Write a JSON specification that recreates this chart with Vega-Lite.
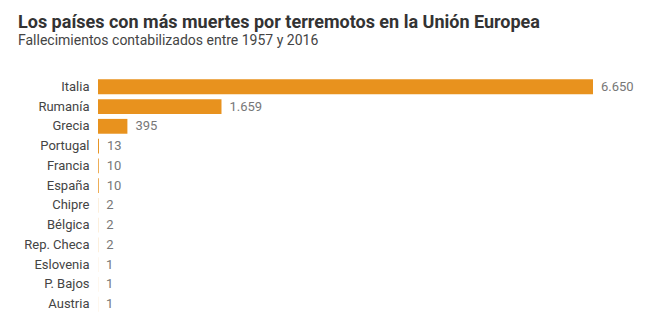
{
  "$schema": "https://vega.github.io/schema/vega-lite/v6.json",
  "autosize": "none",
  "width": 495,
  "height": 237,
  "padding": {"left": 98, "top": 77, "right": 67, "bottom": 21},
  "background": "white",
  "config": {"view": {"stroke": null}, "font": "Roboto"},
  "title": {
    "text": "Los países con más muertes por terremotos en la Unión Europea",
    "subtitle": "Fallecimientos contabilizados entre 1957 y 2016",
    "anchor": "start",
    "frame": "group",
    "dx": -80,
    "offset": 29,
    "font": "Roboto",
    "fontSize": 18,
    "fontWeight": "bold",
    "color": "#333333",
    "subtitleFont": "Roboto",
    "subtitleFontSize": 14,
    "subtitleColor": "#444444",
    "subtitlePadding": 2
  },
  "data": {
    "values": [
      {"pais": "Italia", "muertes": 6650, "label": "6.650"},
      {"pais": "Rumanía", "muertes": 1659, "label": "1.659"},
      {"pais": "Grecia", "muertes": 395, "label": "395"},
      {"pais": "Portugal", "muertes": 13, "label": "13"},
      {"pais": "Francia", "muertes": 10, "label": "10"},
      {"pais": "España", "muertes": 10, "label": "10"},
      {"pais": "Chipre", "muertes": 2, "label": "2"},
      {"pais": "Bélgica", "muertes": 2, "label": "2"},
      {"pais": "Rep. Checa", "muertes": 2, "label": "2"},
      {"pais": "Eslovenia", "muertes": 1, "label": "1"},
      {"pais": "P. Bajos", "muertes": 1, "label": "1"},
      {"pais": "Austria", "muertes": 1, "label": "1"}
    ]
  },
  "encoding": {
    "y": {
      "field": "pais",
      "type": "nominal",
      "sort": null,
      "scale": {"paddingInner": 0.25, "paddingOuter": 0.12},
      "axis": {
        "title": null,
        "domain": false,
        "ticks": false,
        "labelPadding": 9,
        "labelFontSize": 13,
        "labelColor": "#444444",
        "labelFont": "Roboto"
      }
    },
    "x": {
      "field": "muertes",
      "type": "quantitative",
      "scale": {"domain": [0, 6650], "nice": false},
      "axis": null
    }
  },
  "layer": [
    {"mark": {"type": "bar", "color": "#E8921E", "minBandWidth": 0}, "encoding": {}},
    {"mark": {"type": "rule", "color": "#E8921E", "strokeWidth": 1, "opacity": 0.5}, "encoding": {"x": {"datum": 0}}},
    {
      "mark": {"type": "text", "align": "left", "dx": 8, "fontSize": 13, "color": "#777777", "font": "Roboto"},
      "encoding": {"text": {"field": "label"}}
    }
  ]
}
